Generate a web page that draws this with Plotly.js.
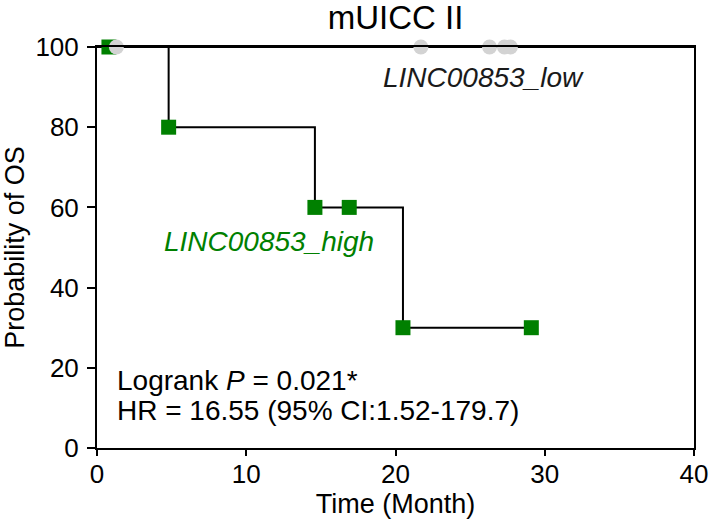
<!DOCTYPE html>
<html>
<head>
<meta charset="utf-8">
<script src="https://cdn.plot.ly/plotly-3.0.1.min.js"></script>
<style>html,body{margin:0;padding:0;background:#fff;}#chart{width:709px;height:524px;}</style>
</head>
<body>
<div id="chart"></div>
<script>
// High-expression group: step curve and marker points
const highStepTimes = [0, 4.8, 14.6, 20.5, 29.1];
const highStepSurv  = [100, 80, 60, 30, 30];
const highMarkTimes = [0.8, 4.8, 14.6, 16.9, 20.5, 29.1];
const highMarkSurv  = [100, 80, 60, 60, 30, 30];

// Low-expression group
const lowStepTimes = [0, 40];
const lowStepSurv  = [100, 100];
const lowMarkTimes = [1.3, 21.7, 26.3, 27.3, 27.7];
const lowMarkSurv  = [100, 100, 100, 100, 100];

const xTicks = [0, 10, 20, 30, 40];
const yTicks = [0, 20, 40, 60, 80, 100];

const FONT = 'Liberation Sans, Arial, sans-serif';

const traces = [
  {x: lowStepTimes, y: lowStepSurv, mode: 'lines', line: {shape: 'hv', color: '#000', width: 2}, showlegend: false, hoverinfo: 'skip', cliponaxis: false},
  {x: highStepTimes, y: highStepSurv, mode: 'lines', line: {shape: 'hv', color: '#000', width: 2}, showlegend: false, hoverinfo: 'skip', cliponaxis: false},
  {x: highMarkTimes, y: highMarkSurv, mode: 'markers', marker: {symbol: 'square', size: 15, color: '#008000'}, showlegend: false, cliponaxis: false},
  {x: lowMarkTimes, y: lowMarkSurv, mode: 'markers', marker: {symbol: 'circle', size: 15, color: '#d3d3d3'}, showlegend: false, cliponaxis: false}
];

const layout = {
  width: 709, height: 524,
  margin: {l: 97, r: 15, t: 47, b: 76},
  paper_bgcolor: '#fff', plot_bgcolor: '#fff',
  font: {family: FONT, color: '#000', size: 26},
  title: {text: 'mUICC II', font: {family: FONT, size: 33, color: '#000'}, x: 0.5, xanchor: 'center', xref: 'paper', y: 0.966, yanchor: 'middle'},
  xaxis: {
    range: [0, 40], tickvals: xTicks, ticktext: xTicks.map(String),
    showline: true, linecolor: '#000', linewidth: 2, mirror: true,
    ticks: 'outside', ticklen: 6, tickwidth: 2, tickcolor: '#000',
    ticklabelstandoff: -4,
    showgrid: false, zeroline: false,
    tickfont: {family: FONT, size: 26, color: '#000'},
    title: {text: 'Time (Month)', font: {family: FONT, size: 27, color: '#000'}, standoff: 6}
  },
  yaxis: {
    range: [0, 100], tickvals: yTicks, ticktext: yTicks.map(String),
    showline: true, linecolor: '#000', linewidth: 2, mirror: true,
    ticks: 'outside', ticklen: 8, tickwidth: 2, tickcolor: '#000',
    ticklabelstandoff: 3,
    showgrid: false, zeroline: false,
    tickfont: {family: FONT, size: 26, color: '#000'},
    title: {text: 'Probability of OS', font: {family: FONT, size: 27, color: '#000'}, standoff: 4}
  },
  annotations: [
    {x: 25.9, y: 92.3, xref: 'x', yref: 'y', text: '<i>LINC00853_low</i>', showarrow: false, font: {family: FONT, size: 28, color: '#1a1a1a'}},
    {x: 11.5, y: 51.6, xref: 'x', yref: 'y', text: '<i>LINC00853_high</i>', showarrow: false, font: {family: FONT, size: 28, color: '#008000'}},
    {x: 1.2, y: 16.8, xref: 'x', yref: 'y', xanchor: 'left', text: 'Logrank <i>P</i> = 0.021*', showarrow: false, font: {family: FONT, size: 28, color: '#000'}},
    {x: 1.2, y: 9.4, xref: 'x', yref: 'y', xanchor: 'left', text: 'HR = 16.55 (95% CI:1.52-179.7)', showarrow: false, font: {family: FONT, size: 28, color: '#000'}}
  ]
};

Plotly.newPlot('chart', traces, layout, {displayModeBar: false, staticPlot: true});
</script>
</body>
</html>
